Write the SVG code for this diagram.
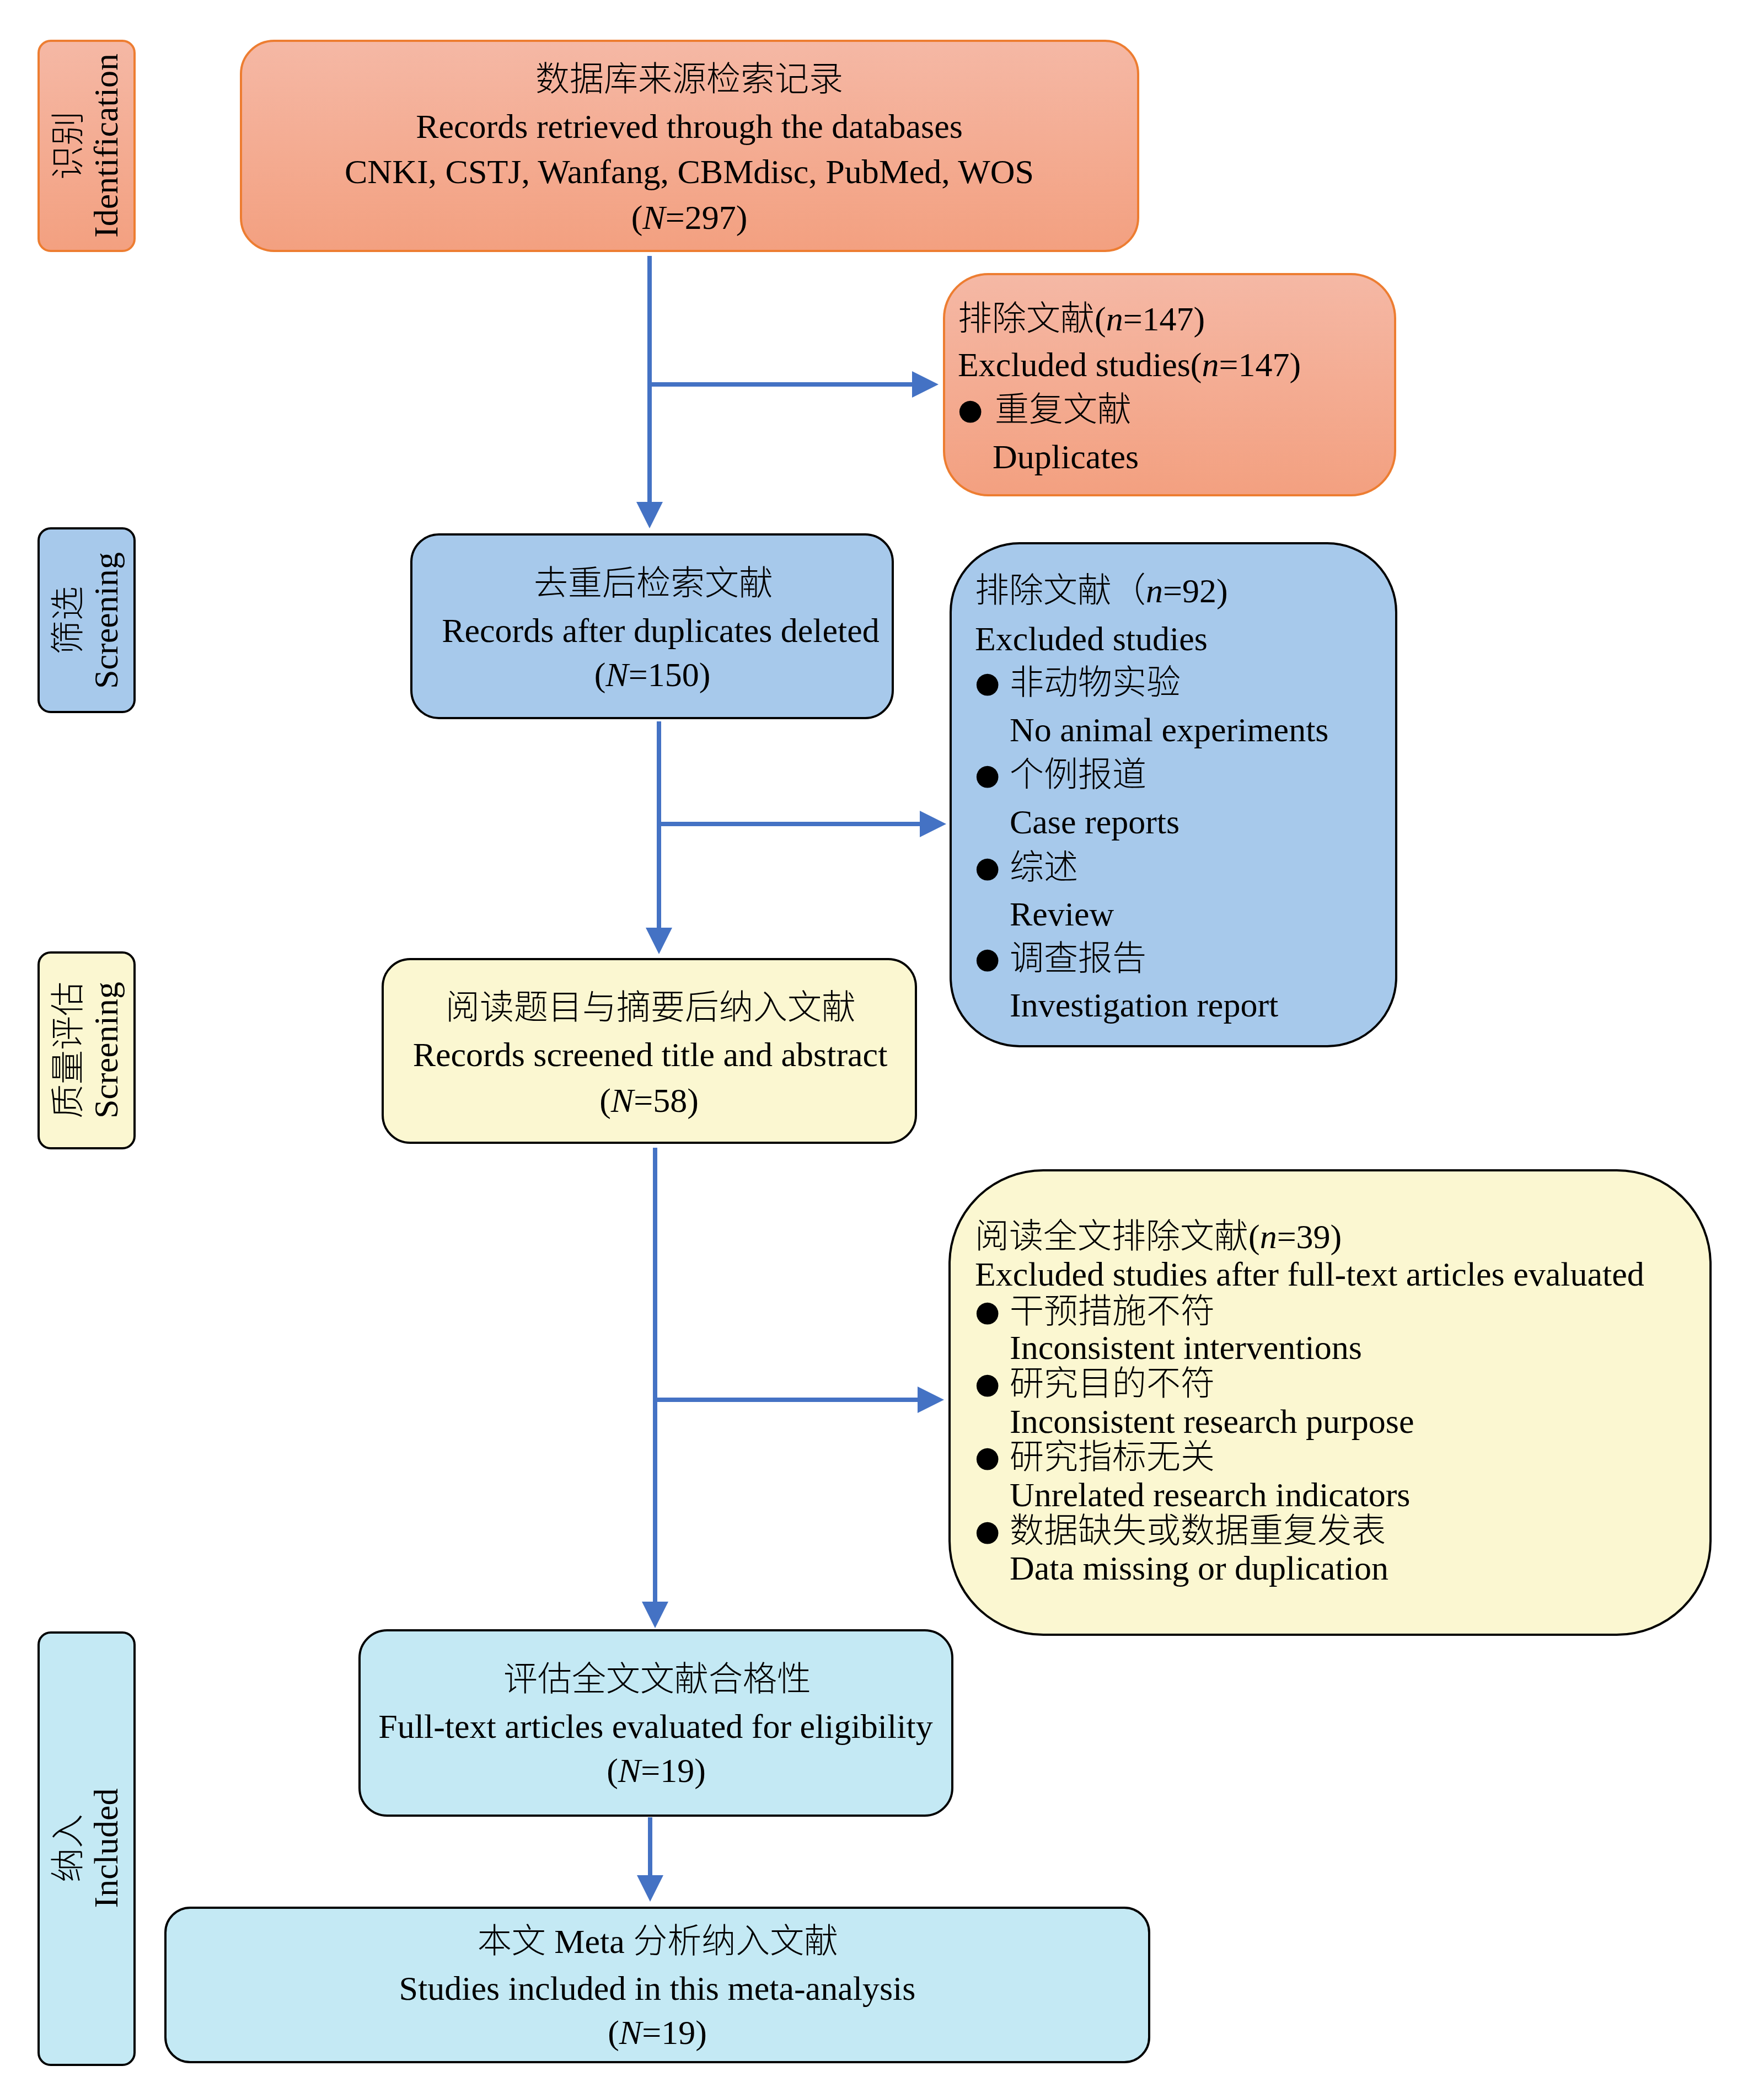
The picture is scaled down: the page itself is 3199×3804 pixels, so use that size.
<svg xmlns="http://www.w3.org/2000/svg" width="3199" height="3804" viewBox="0 0 3199 3804">
<style>
text{font-family:"Liberation Serif","Noto Sans CJK SC",serif;font-size:62px;font-weight:300;fill:#000}
.c{text-anchor:middle}
.i{font-style:italic}
.b{font-family:"DejaVu Sans","Noto Sans CJK SC",sans-serif;font-size:52px;font-weight:400}
.or{fill:url(#og);stroke:#ED7D31;stroke-width:4}
.bl{fill:#A7C9EB;stroke:#000;stroke-width:4}
.ye{fill:#FBF7D1;stroke:#000;stroke-width:4}
.cy{fill:#C4E9F4;stroke:#000;stroke-width:4}
.cn{fill:none;stroke:#4472C4;stroke-width:8}
.ah{marker-end:url(#arr)}
</style>
<defs>
<linearGradient id="og" x1="0" y1="0" x2="0" y2="1">
<stop offset="0" stop-color="#F5B8A5"/>
<stop offset="1" stop-color="#F3A080"/>
</linearGradient>
<marker id="arr" markerUnits="userSpaceOnUse" markerWidth="50" markerHeight="50" viewBox="0 0 50 50" refX="2" refY="24" orient="auto">
<path d="M0,0 L48,24 L0,48 Z" fill="#4472C4"/>
</marker>
</defs>
<rect width="3199" height="3804" fill="#fff"/>

<g id="side-identification">
<rect class="or" x="70" y="74" width="174" height="381" rx="22"/>
<text class="c" transform="translate(157,264) rotate(-90)"><tspan x="0" y="-12">识别</tspan><tspan x="0" y="56">Identification</tspan></text>
</g>
<g id="side-screening">
<rect class="bl" x="70" y="958" width="174" height="333" rx="22"/>
<text class="c" transform="translate(157,1125) rotate(-90)"><tspan x="0" y="-12">筛选</tspan><tspan x="0" y="56">Screening</tspan></text>
</g>
<g id="side-quality">
<rect class="ye" x="70" y="1727" width="174" height="355" rx="22"/>
<text class="c" transform="translate(157,1904) rotate(-90)"><tspan x="0" y="-12">质量评估</tspan><tspan x="0" y="56">Screening</tspan></text>
</g>
<g id="side-included">
<rect class="cy" x="70" y="2960" width="174" height="784" rx="22"/>
<text class="c" transform="translate(157,3351) rotate(-90)"><tspan x="0" y="-12">纳入</tspan><tspan x="0" y="56">Included</tspan></text>
</g>

<g id="node-records">
<rect class="or" x="437" y="74" width="1627" height="381" rx="60"/>
<text class="c"><tspan x="1250" y="165">数据库来源检索记录</tspan><tspan x="1250" y="250">Records retrieved through the databases</tspan><tspan x="1250" y="332">CNKI, CSTJ, Wanfang, CBMdisc, PubMed, WOS</tspan><tspan x="1250" y="415">(<tspan class="i">N</tspan>=297)</tspan></text>
</g>

<g id="node-excluded1">
<rect class="or" x="1712" y="497" width="818" height="401" rx="80"/>
<text x="1737" y="599">排除文献(<tspan class="i">n</tspan>=147)</text>
<text x="1737" y="682">Excluded studies(<tspan class="i">n</tspan>=147)</text>
<text class="b" x="1737" y="760">●</text>
<text x="1804" y="764">重复文献</text>
<text x="1800" y="849">Duplicates</text>
</g>

<g id="node-dedup">
<rect class="bl" x="746" y="969" width="873" height="333" rx="50"/>
<text class="c"><tspan x="1185" y="1079">去重后检索文献</tspan><tspan x="1198" y="1164">Records after duplicates deleted</tspan><tspan x="1183" y="1244">(<tspan class="i">N</tspan>=150)</tspan></text>
</g>

<g id="node-excluded2">
<rect class="bl" x="1724" y="985" width="808" height="912" rx="125"/>
<text x="1768" y="1092">排除文献（<tspan class="i">n</tspan>=92)</text>
<text x="1768" y="1179">Excluded studies</text>
<text class="b" x="1768" y="1255">●</text>
<text x="1831" y="1259">非动物实验</text>
<text x="1831" y="1344">No animal experiments</text>
<text class="b" x="1768" y="1422">●</text>
<text x="1831" y="1426">个例报道</text>
<text x="1831" y="1511">Case reports</text>
<text class="b" x="1768" y="1590">●</text>
<text x="1831" y="1594">综述</text>
<text x="1831" y="1678">Review</text>
<text class="b" x="1768" y="1755">●</text>
<text x="1831" y="1759">调查报告</text>
<text x="1831" y="1843">Investigation report</text>
</g>

<g id="node-screened">
<rect class="ye" x="694" y="1739" width="967" height="333" rx="50"/>
<text class="c"><tspan x="1180" y="1848">阅读题目与摘要后纳入文献</tspan><tspan x="1179" y="1933">Records screened title and abstract</tspan><tspan x="1177" y="2016">(<tspan class="i">N</tspan>=58)</tspan></text>
</g>

<g id="node-excluded3">
<rect class="ye" x="1722" y="2122" width="1380" height="842" rx="170"/>
<text x="1768" y="2263">阅读全文排除文献(<tspan class="i">n</tspan>=39)</text>
<text x="1768" y="2331">Excluded studies after full-text articles evaluated</text>
<text class="b" x="1768" y="2395">●</text>
<text x="1831" y="2399">干预措施不符</text>
<text x="1831" y="2464">Inconsistent interventions</text>
<text class="b" x="1768" y="2526">●</text>
<text x="1831" y="2530">研究目的不符</text>
<text x="1831" y="2598">Inconsistent research purpose</text>
<text class="b" x="1768" y="2659">●</text>
<text x="1831" y="2663">研究指标无关</text>
<text x="1831" y="2731">Unrelated research indicators</text>
<text class="b" x="1768" y="2793">●</text>
<text x="1831" y="2797">数据缺失或数据重复发表</text>
<text x="1831" y="2864">Data missing or duplication</text>
</g>

<g id="node-fulltext">
<rect class="cy" x="652" y="2956" width="1075" height="336" rx="50"/>
<text class="c"><tspan x="1192" y="3066">评估全文文献合格性</tspan><tspan x="1189" y="3151">Full-text articles evaluated for eligibility</tspan><tspan x="1190" y="3231">(<tspan class="i">N</tspan>=19)</tspan></text>
</g>

<g id="node-included">
<rect class="cy" x="300" y="3459" width="1784" height="280" rx="45"/>
<text class="c"><tspan x="1193" y="3541">本文 Meta 分析纳入文献</tspan><tspan x="1192" y="3626">Studies included in this meta-analysis</tspan><tspan x="1192" y="3706">(<tspan class="i">N</tspan>=19)</tspan></text>
</g>

<g id="connectors">
<path class="cn ah" d="M1178,464 V912"/>
<path class="cn ah" d="M1174,697 H1656"/>
<path class="cn ah" d="M1195,1308 V1684"/>
<path class="cn ah" d="M1191,1494 H1670"/>
<path class="cn ah" d="M1188,2081 V2906"/>
<path class="cn ah" d="M1184,2538 H1666"/>
<path class="cn ah" d="M1179,3295 V3402"/>
</g>
</svg>
